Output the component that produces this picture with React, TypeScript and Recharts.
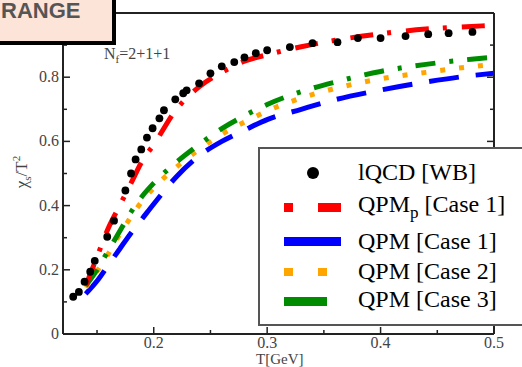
import React from 'react';
import { ComposedChart, Line, Scatter, XAxis, YAxis } from 'recharts';

// temperature grid of the model curves [GeV]
const tGrid = [0.14, 0.15, 0.16, 0.17, 0.18, 0.19, 0.2, 0.22, 0.24, 0.26, 0.28, 0.3, 0.33, 0.36, 0.4, 0.44, 0.48, 0.5];
const qpmP1 = [0.15, 0.24, 0.33, 0.4, 0.47, 0.54, 0.59, 0.7, 0.77, 0.815, 0.85, 0.87, 0.895, 0.915, 0.935, 0.95, 0.958, 0.962];
const qpm1 = [0.125, 0.165, 0.215, 0.265, 0.315, 0.36, 0.405, 0.49, 0.555, 0.6, 0.635, 0.668, 0.7, 0.73, 0.76, 0.785, 0.805, 0.812];
const qpm2 = [0.145, 0.195, 0.25, 0.31, 0.365, 0.415, 0.455, 0.52, 0.575, 0.622, 0.66, 0.695, 0.735, 0.765, 0.795, 0.815, 0.833, 0.84];
const qpm3 = [0.15, 0.2, 0.26, 0.32, 0.38, 0.43, 0.47, 0.535, 0.59, 0.64, 0.68, 0.715, 0.755, 0.785, 0.818, 0.84, 0.856, 0.862];

// lattice QCD (WB)
const latT = [0.129, 0.134, 0.139, 0.144, 0.148, 0.159, 0.165, 0.175, 0.18, 0.184, 0.189, 0.194, 0.199, 0.205, 0.209, 0.219, 0.226, 0.229, 0.24, 0.25, 0.26, 0.271, 0.28, 0.29, 0.3, 0.32, 0.34, 0.362, 0.38, 0.4, 0.422, 0.442, 0.46, 0.481];
const latChi = [0.116, 0.131, 0.163, 0.194, 0.228, 0.303, 0.353, 0.447, 0.5, 0.544, 0.575, 0.612, 0.641, 0.672, 0.697, 0.731, 0.75, 0.759, 0.781, 0.812, 0.834, 0.847, 0.862, 0.875, 0.884, 0.894, 0.906, 0.909, 0.922, 0.922, 0.928, 0.934, 0.937, 0.941];

const xTicks = [0.15, 0.2, 0.25, 0.3, 0.35, 0.4, 0.45, 0.5];
const xMajor = [0.2, 0.3, 0.4, 0.5];
const yTicks = [0, 0.1, 0.2, 0.3, 0.4, 0.5, 0.6, 0.7, 0.8, 0.9];
const yMajor = [0, 0.2, 0.4, 0.6, 0.8];

const curves = tGrid.map((T, i) => ({ T, qpmP1: qpmP1[i], qpm1: qpm1[i], qpm2: qpm2[i], qpm3: qpm3[i] }));
const lattice = latT.map((T, i) => ({ T, chi: latChi[i] }));

const AX = '#222';
const serif = '"Liberation Serif", "DejaVu Serif", serif';

const BottomTick = (p: any) => {
  const major = xMajor.includes(p.payload.value);
  return (
    <g>
      <line x1={p.x} x2={p.x} y1={p.y} y2={p.y - (major ? 7 : 4)} stroke={AX} strokeWidth={1.5} />
      {major && (
        <text x={p.x} y={p.y + 14} textAnchor="middle" fontFamily={serif} fontSize={16} fill="#444">
          {p.payload.value}
        </text>
      )}
    </g>
  );
};

const TopTick = (p: any) => {
  const major = xMajor.includes(p.payload.value);
  return <line x1={p.x} x2={p.x} y1={p.y} y2={p.y + (major ? 7 : 4)} stroke={AX} strokeWidth={1.5} />;
};

const LeftTick = (p: any) => {
  const major = yMajor.includes(p.payload.value);
  return (
    <g>
      <line x1={p.x} x2={p.x + (major ? 7 : 4)} y1={p.y} y2={p.y} stroke={AX} strokeWidth={1.5} />
      {major && (
        <text x={p.x - 4} y={p.y + 5} textAnchor="end" fontFamily={serif} fontSize={16} fill="#444">
          {p.payload.value}
        </text>
      )}
    </g>
  );
};

const RightTick = (p: any) => {
  const major = yMajor.includes(p.payload.value);
  return <line x1={p.x} x2={p.x - (major ? 7 : 4)} y1={p.y} y2={p.y} stroke={AX} strokeWidth={1.5} />;
};

const abs = (left: number, top: number, extra: React.CSSProperties = {}): React.CSSProperties => ({
  position: 'absolute',
  left,
  top,
  whiteSpace: 'nowrap',
  ...extra,
});

const legendText: React.CSSProperties = { fontFamily: serif, fontSize: 24, color: '#000', lineHeight: '24px' };

const axisCommon = {
  type: 'number' as const,
  allowDataOverflow: true,
  tickSize: 0,
  tickMargin: 0,
  tickLine: false,
  axisLine: { stroke: AX, strokeWidth: 2 },
  interval: 0 as const,
};

const Chart = () => (
  <div style={{ position: 'absolute', left: 0, top: 0, width: 522, height: 367, overflow: 'hidden', background: '#fff' }}>
    <ComposedChart width={522} height={367} data={curves} margin={{ top: 12, right: 27, bottom: 32, left: 62 }}>
      <XAxis {...axisCommon} dataKey="T" domain={[0.12, 0.5]} ticks={xTicks} height={1} tick={BottomTick} />
      <XAxis {...axisCommon} xAxisId="top" orientation="top" domain={[0.12, 0.5]} ticks={xTicks} height={1} tick={TopTick} />
      <YAxis {...axisCommon} domain={[0, 1]} ticks={yTicks} width={1} tick={LeftTick} />
      <YAxis {...axisCommon} yAxisId="right" orientation="right" domain={[0, 1]} ticks={yTicks} width={1} tick={RightTick} />
      <Line dataKey="qpm1" type="monotone" stroke="#0000ff" strokeWidth={5} strokeDasharray="30 17" dot={false} isAnimationActive={false} />
      <Line dataKey="qpm2" type="monotone" stroke="#ffa500" strokeWidth={5} strokeDasharray="5 14" dot={false} isAnimationActive={false} />
      <Line dataKey="qpm3" type="monotone" stroke="#008c00" strokeWidth={5} strokeDasharray="20 14 4 14" dot={false} isAnimationActive={false} />
      <Line dataKey="qpmP1" type="monotone" stroke="#ff0000" strokeWidth={5} strokeDasharray="23 14 4 15" dot={false} isAnimationActive={false} />
      <Scatter data={lattice} dataKey="chi" fill="#000" isAnimationActive={false} shape={(p: any) => <circle cx={p.cx} cy={p.cy} r={3.9} fill="#000" />} />
    </ComposedChart>

    {/* axis titles and annotation */}
    <div style={abs(104, 46, { fontFamily: serif, fontSize: 16, color: '#444', lineHeight: '16px' })}>
      N<sub style={{ fontSize: 11 }}>f</sub>=2+1+1
    </div>
    <div style={abs(256, 352, { fontFamily: serif, fontSize: 15, color: '#444', lineHeight: '15px' })}>T[GeV]</div>
    <div
      style={abs(-6, 158, {
        fontFamily: serif,
        fontSize: 17,
        color: '#444',
        lineHeight: '17px',
        transform: 'rotate(-90deg)',
        transformOrigin: 'center',
        width: 56,
        textAlign: 'center',
      })}
    >
      χ<sub style={{ fontSize: 11 }}>s</sub>/T<sup style={{ fontSize: 11 }}>2</sup>
    </div>

    {/* legend */}
    <div style={abs(258, 147, { width: 280, height: 179, border: '2px solid #555', background: '#fff', boxSizing: 'border-box' })} />
    <div style={abs(307, 167, { width: 12, height: 12, borderRadius: 6, background: '#000' })} />
    <div style={abs(358, 160, legendText)}>lQCD [WB]</div>
    <div style={abs(284, 203, { width: 9, height: 9, background: '#ff0000' })} />
    <div style={abs(318, 203, { width: 23, height: 9, background: '#ff0000' })} />
    <div style={abs(358, 192, legendText)}>
      QPM<sub style={{ fontSize: 17 }}>p</sub> [Case 1]
    </div>
    <div style={abs(284, 237, { width: 57, height: 9, background: '#0000ff' })} />
    <div style={abs(358, 229, legendText)}>QPM [Case 1]</div>
    <div style={abs(284, 268, { width: 9, height: 8, background: '#ffa500' })} />
    <div style={abs(318, 268, { width: 9, height: 8, background: '#ffa500' })} />
    <div style={abs(358, 259, legendText)}>QPM [Case 2]</div>
    <div style={abs(284, 297, { width: 43, height: 9, background: '#008c00' })} />
    <div style={abs(358, 287, legendText)}>QPM [Case 3]</div>

    {/* label box at the top left, partly outside the frame */}
    <div style={abs(-10, -10, { width: 126, height: 55, background: '#fde4d8', border: '4px solid #000', boxSizing: 'border-box' })} />
    <div style={abs(1, 0, { fontFamily: '"Liberation Sans", Arial, sans-serif', fontWeight: 'bold', fontSize: 22, lineHeight: '22px', color: '#555' })}>
      RANGE
    </div>
  </div>
);

export default function App() {
  return <Chart />;
}
